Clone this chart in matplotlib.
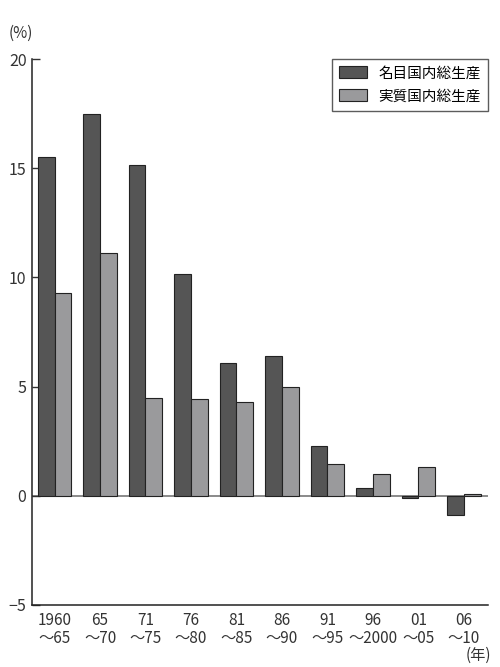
import numpy as np
import matplotlib
matplotlib.use('Agg')
import matplotlib.pyplot as plt

plt.rcParams['font.family'] = ['Noto Sans CJK JP', 'DejaVu Sans']

periods = ['1960\n〜65', '65\n〜70', '71\n〜75', '76\n〜80', '81\n〜85',
           '86\n〜90', '91\n〜95', '96\n〜2000', '01\n〜05', '06\n〜10']
nominal = [15.5, 17.5, 15.15, 10.15, 6.1, 6.4, 2.3, 0.37, -0.1, -0.87]
real = [9.3, 11.1, 4.5, 4.45, 4.3, 5.0, 1.45, 1.0, 1.33, 0.08]
labels = ['名目国内総生産', '実質国内総生産']

x = np.arange(len(periods))
w = 0.37

fig = plt.figure(figsize=(5, 6.67), dpi=100)
ax = fig.add_axes([0.064, 0.093, 0.912, 0.8185])

ax.bar(x - w/2, nominal, w, color='#555555', edgecolor='#222222', linewidth=0.8,
       label=labels[0], zorder=2)
ax.bar(x + w/2, real, w, color='#9a9a9c', edgecolor='#222222', linewidth=0.8,
       label=labels[1], zorder=2)
ax.axhline(0, color='#777777', linewidth=1.2, zorder=1)

ax.set_xlim(-0.495, 9.53)
ax.set_ylim(-5, 20)
ax.set_yticks([-5, 0, 5, 10, 15, 20])
ax.set_yticklabels(['−5', '0', '5', '10', '15', '20'])
ax.set_xticks(x)
ax.set_xticklabels(periods, linespacing=1.05)
ax.tick_params(axis='y', direction='in', length=6, width=1, labelsize=11.5,
               pad=4, colors='#333333')
ax.tick_params(axis='x', length=0, labelsize=11, pad=5, colors='#333333')
for s in ['top', 'right']:
    ax.spines[s].set_visible(False)
for s in ['left', 'bottom']:
    ax.spines[s].set_linewidth(1.1)
    ax.spines[s].set_color('#222222')

fig.text(0.018, 0.950, '(%)', fontsize=11, color='#333333', va='center')
fig.text(0.982, 0.018, '(年)', fontsize=11, color='#333333', va='center',
         ha='right')

leg = ax.legend(loc='upper right', borderaxespad=0, fancybox=False,
                fontsize=10.5, handlelength=1.9, handleheight=0.9,
                borderpad=0.5, labelspacing=0.6, handletextpad=0.8)
leg.get_frame().set_edgecolor('#333333')
leg.get_frame().set_linewidth(1)

fig.savefig('out.png', dpi=100)
